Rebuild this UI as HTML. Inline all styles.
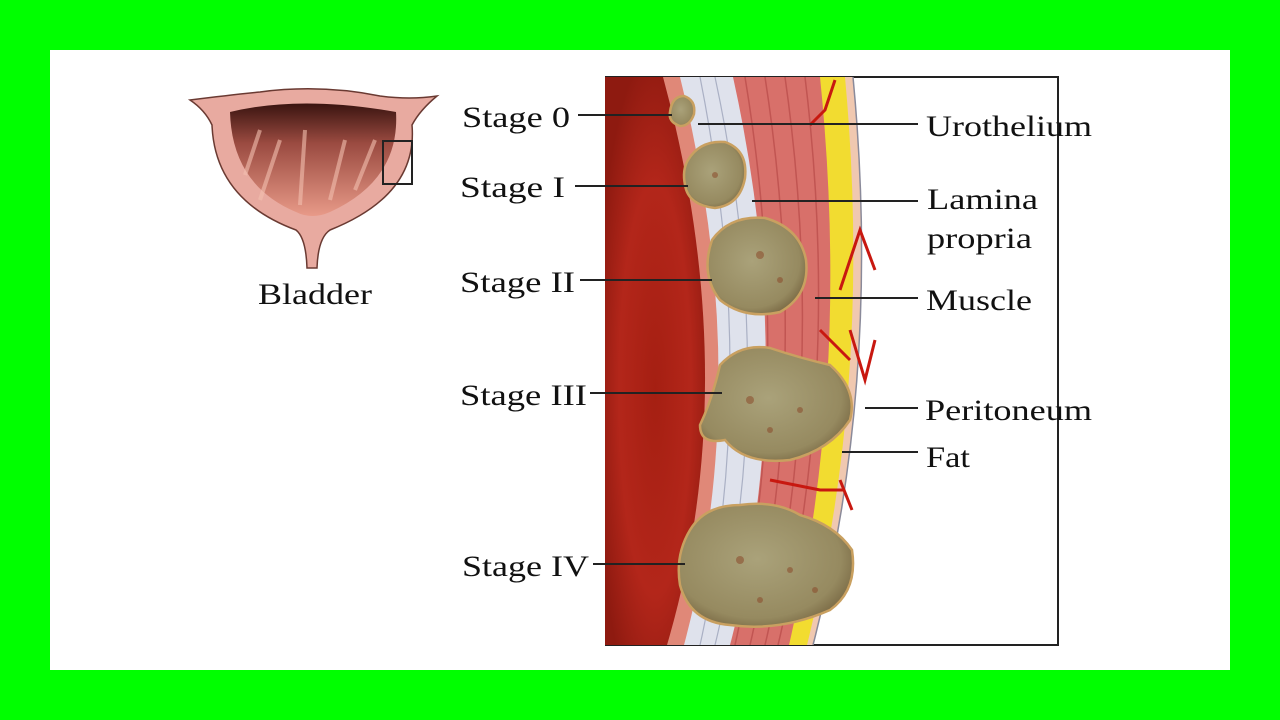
<!DOCTYPE html>
<html><head><meta charset="utf-8"><style>
html,body{margin:0;padding:0;width:1280px;height:720px;overflow:hidden;background:#00ff00;}
svg{display:block}
text{font-family:"Liberation Serif",serif;font-size:30px;fill:#111}
</style></head><body>
<svg width="1280" height="720" viewBox="0 0 1280 720">
<defs>
<radialGradient id="lum" cx="0.5" cy="0.55" r="0.6">
<stop offset="0" stop-color="#a51f12"/><stop offset="0.6" stop-color="#b3261a"/><stop offset="1" stop-color="#8e1a10"/>
</radialGradient>
<linearGradient id="cav" x1="0" y1="0" x2="0" y2="1">
<stop offset="0" stop-color="#3a1410"/><stop offset="0.35" stop-color="#9a4a40"/><stop offset="1" stop-color="#e89a88"/>
</linearGradient>
<radialGradient id="tum" cx="0.45" cy="0.45" r="0.6">
<stop offset="0" stop-color="#aaa27a"/><stop offset="0.8" stop-color="#968a60"/><stop offset="1" stop-color="#7a6a45"/>
</radialGradient>
</defs>
<rect x="0" y="0" width="1280" height="720" fill="#00ff00"/>
<rect x="50" y="50" width="1180" height="620" fill="#fff"/>

<!-- bladder -->
<path d="M190 100 Q230 95 260 92 Q320 84 380 96 Q410 100 437 96 Q420 110 412 125 Q418 195 330 230 Q318 238 317 268 L307 268 Q306 238 296 230 Q215 200 212 125 Q205 110 190 100 Z" fill="#e8aaa0" stroke="#6a3a32" stroke-width="1.5"/>
<path d="M230 112 Q300 95 396 112 Q400 180 330 212 Q312 220 296 212 Q232 185 230 112 Z" fill="url(#cav)"/>
<g stroke="#f3c0b0" stroke-width="4" opacity="0.6" fill="none">
<path d="M260 200 L280 140"/><path d="M300 205 L305 130"/><path d="M330 200 L345 140"/><path d="M355 190 L375 140"/><path d="M245 175 L260 130"/>
</g>
<rect x="383" y="141" width="29" height="43" fill="none" stroke="#222" stroke-width="2"/>
<text x="258" y="304" textLength="114" lengthAdjust="spacingAndGlyphs">Bladder</text>

<!-- frame -->
<polyline points="605,77 1058,77 1058,645 605,645" fill="none" stroke="#222" stroke-width="2"/>
<clipPath id="cp"><rect x="605" y="77" width="452" height="568"/></clipPath>
<g clip-path="url(#cp)">
<path d="M605 77 L853 77 Q882 380 813 645 L605 645 Z" fill="#f0c8b0"/>
<path d="M853 77 Q882 380 813 645" fill="none" stroke="#8a8a9a" stroke-width="1.5"/>
<path d="M605 77 L845 77 Q873 380 807 645 L605 645 Z" fill="#f2dc30"/>
<path d="M605 77 L820 77 Q851 380 789 645 L605 645 Z" fill="#d8706a"/>
<g fill="none" stroke="#b84a48" stroke-width="1.5" opacity="0.7">
<path d="M745 77 Q795 380 735 645"/><path d="M765 77 Q812 380 750 645"/><path d="M785 77 Q828 380 765 645"/><path d="M805 77 Q842 380 778 645"/>
</g>
<path d="M605 77 L733 77 Q800 380 730 645 L605 645 Z" fill="#dfe2ec"/>
<g fill="none" stroke="#aab0c4" stroke-width="1.2">
<path d="M700 77 Q760 380 700 645"/><path d="M715 77 Q780 380 715 645"/>
</g>
<path d="M605 77 L680 77 Q755 380 684 645 L605 645 Z" fill="#e08878"/>
<path d="M605 77 L663 77 Q745 380 667 645 L605 645 Z" fill="url(#lum)"/>
<g stroke="#c81810" stroke-width="3" fill="none">
<path d="M835 80 L825 110 L810 125"/><path d="M840 290 L860 230 L875 270"/><path d="M850 330 L865 380 L875 340"/><path d="M820 330 L850 360"/><path d="M840 480 L852 510"/><path d="M770 480 L820 490 L845 490"/>
</g>
<g fill="url(#tum)" stroke="#c9a060" stroke-width="2.5">
<path d="M670 112 Q672 96 684 96 Q696 100 694 114 Q690 126 680 126 Q668 122 670 112Z"/>
<path d="M688 160 Q700 140 725 142 Q748 150 745 178 Q740 205 715 208 Q688 205 685 185 Q682 170 688 160Z"/>
<path d="M712 240 Q730 215 765 218 Q800 228 806 260 Q810 295 780 312 Q745 320 720 300 Q700 275 712 240Z"/>
<path d="M720 365 Q740 343 770 348 Q800 358 830 365 Q858 390 850 420 Q830 450 790 460 Q745 465 725 440 Q700 445 700 425 Q712 400 720 365Z"/>
<path d="M690 530 Q705 505 740 505 Q775 500 800 515 Q835 525 852 550 Q858 590 830 610 Q780 632 730 625 Q690 622 680 585 Q675 555 690 530Z"/>
</g>
<g fill="#8a4a2a" opacity="0.55">
<circle cx="715" cy="175" r="3"/><circle cx="760" cy="255" r="4"/><circle cx="780" cy="280" r="3"/><circle cx="750" cy="400" r="4"/><circle cx="800" cy="410" r="3"/><circle cx="770" cy="430" r="3"/><circle cx="740" cy="560" r="4"/><circle cx="790" cy="570" r="3"/><circle cx="760" cy="600" r="3"/><circle cx="815" cy="590" r="3"/>
</g>
</g>

<g stroke="#222" stroke-width="2">
<line x1="578" y1="115" x2="672" y2="115"/>
<line x1="575" y1="186" x2="688" y2="186"/>
<line x1="580" y1="280" x2="712" y2="280"/>
<line x1="590" y1="393" x2="722" y2="393"/>
<line x1="593" y1="564" x2="685" y2="564"/>
<line x1="698" y1="124" x2="918" y2="124"/>
<line x1="752" y1="201" x2="918" y2="201"/>
<line x1="815" y1="298" x2="918" y2="298"/>
<line x1="865" y1="408" x2="918" y2="408"/>
<line x1="842" y1="452" x2="918" y2="452"/>
</g>
<text x="462" y="127" textLength="108" lengthAdjust="spacingAndGlyphs">Stage 0</text>
<text x="460" y="197" textLength="105" lengthAdjust="spacingAndGlyphs">Stage I</text>
<text x="460" y="292" textLength="115" lengthAdjust="spacingAndGlyphs">Stage II</text>
<text x="460" y="405" textLength="127" lengthAdjust="spacingAndGlyphs">Stage III</text>
<text x="462" y="576" textLength="127" lengthAdjust="spacingAndGlyphs">Stage IV</text>
<text x="926" y="136" textLength="166" lengthAdjust="spacingAndGlyphs">Urothelium</text>
<text x="927" y="209" textLength="111" lengthAdjust="spacingAndGlyphs">Lamina</text>
<text x="927" y="248" textLength="105" lengthAdjust="spacingAndGlyphs">propria</text>
<text x="926" y="310" textLength="106" lengthAdjust="spacingAndGlyphs">Muscle</text>
<text x="925" y="420" textLength="167" lengthAdjust="spacingAndGlyphs">Peritoneum</text>
<text x="926" y="467" textLength="44" lengthAdjust="spacingAndGlyphs">Fat</text>
</svg>
</body></html>
